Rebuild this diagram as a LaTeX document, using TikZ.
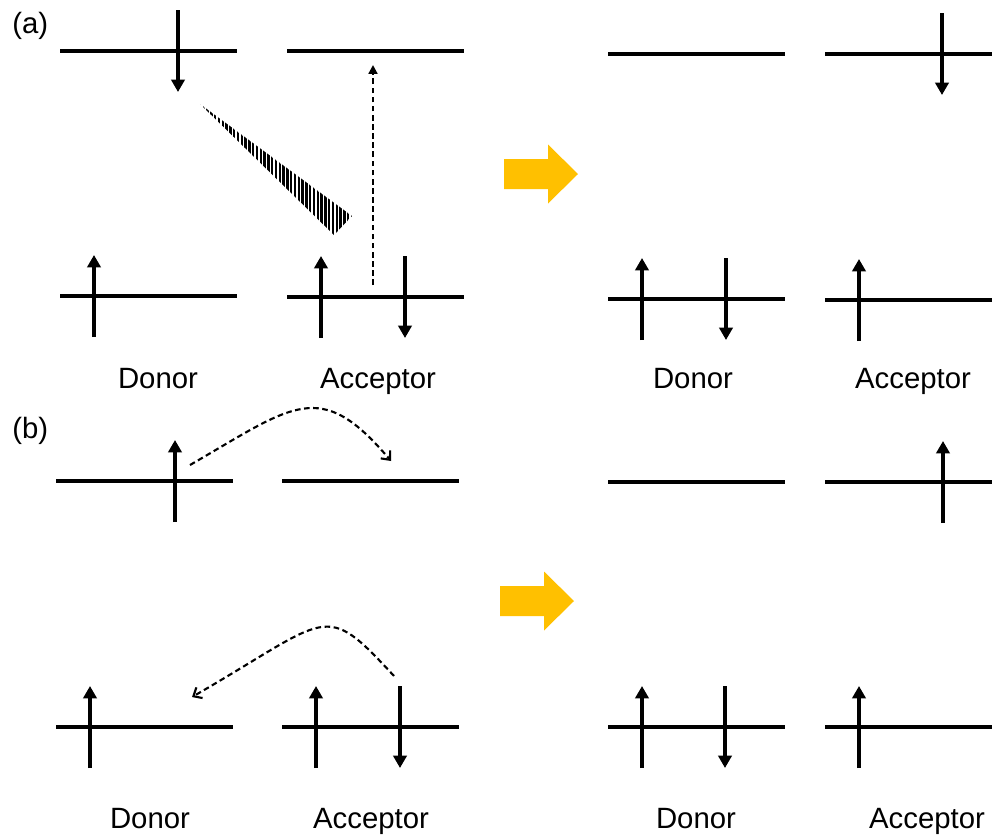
\documentclass[tikz,border=0pt]{standalone}
\usepackage{fontspec}
\setmainfont{Liberation Sans}
\usetikzlibrary{arrows.meta}

\definecolor{gold}{HTML}{FFC000}

\tikzset{
	level/.style={line width=2pt},
	spin/.style={line width=2pt, -{Triangle[width=7.5pt, length=7pt]}},
	hop/.style={line width=1.2pt, dash pattern=on 3.2pt off 2pt},
	tag/.style={inner sep=0pt, font=\fontsize{16.7}{20}\selectfont}
}

\begin{document}
\begin{tikzpicture}[x=0.02cm, y=-0.02cm]
	\useasboundingbox (0,0) rectangle (992,836);

	\node[tag, anchor=base west] (a) at (12,33) {(a)};
	\node[tag, anchor=base west] (b) at (12,438) {(b)};

	% orbital levels
	\foreach \x/\y in {60/51, 287/51, 60/296, 287/297, 608/54, 825/54, 608/299, 825/300,
		56/481, 282/481, 56/727, 282/727, 608/482, 825/482, 608/727, 825/727}
		\draw[level] (\x,\y) -- ++(177,0);

	% electrons
	\foreach \x/\y in {94/296, 321/297, 642/299, 859/300, 175/481, 943/482, 90/727, 316/727, 642/727, 859/727}
		\draw[spin] (\x,\y+41) -- (\x,\y-41);
	\foreach \x/\y in {178/51, 405/297, 942/54, 726/299, 400/727, 725/727}
		\draw[spin] (\x,\y-41) -- (\x,\y+41);

	% energy transfer wedge
	\begin{scope}
		\clip (200,104) -- (352,216) -- (334,235) -- cycle;
		\foreach \x in {200,203.8,...,356}
			\draw[line width=1.3pt] (\x,100) -- (\x,240);
	\end{scope}

	\coordinate (exc0) at (373,285);
	\coordinate (exc1) at (373,65);
	\draw[hop, -{Triangle[width=5pt, length=5pt]}] (exc0) -- (exc1);

	\coordinate (dA) at (190,465);
	\coordinate (aL) at (391,461);
	\draw[hop, -{Straight Barb[width=7pt, length=4pt]}] (dA) .. controls (294,405) and (320,377) .. (aL);
	\coordinate (aH) at (394,676);
	\coordinate (dH) at (192,697);
	\draw[hop, -{Straight Barb[width=7pt, length=4pt]}] (aH) .. controls (323,599) and (331,617) .. (dH);

	% big arrows
	\foreach \x/\y in {504/174, 500/601}
		\fill[gold] (\x,\y-15) -- ++(44,0) -- ++(0,-14.5) -- ++(30,29.5) -- ++(-30,29.5) -- ++(0,-14.5) -- ++(-44,0) -- cycle;

	\node[tag, anchor=base] (don1) at (158,388) {Donor};
	\node[tag, anchor=base] (acc1) at (378,388) {Acceptor};
	\node[tag, anchor=base] (don2) at (693,388) {Donor};
	\node[tag, anchor=base] (acc2) at (913,388) {Acceptor};
	\node[tag, anchor=base] (don3) at (150,828) {Donor};
	\node[tag, anchor=base] (acc3) at (371,828) {Acceptor};
	\node[tag, anchor=base] (don4) at (696,828) {Donor};
	\node[tag, anchor=base] (acc4) at (927,828) {Acceptor};
\end{tikzpicture}
\end{document}
